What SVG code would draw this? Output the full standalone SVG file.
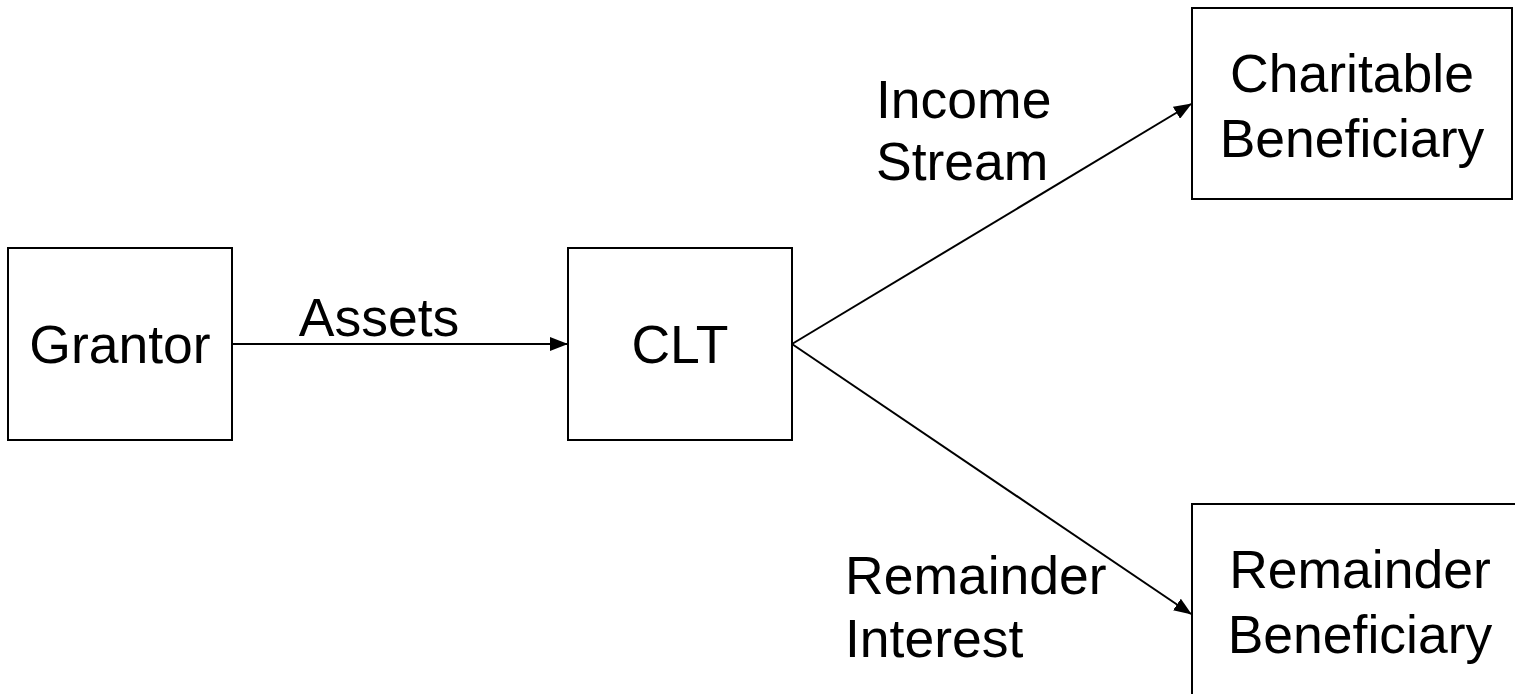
<svg xmlns="http://www.w3.org/2000/svg" width="1515" height="694" viewBox="0 0 1515 694">
<style>
.box{fill:#fff;stroke:#000;stroke-width:2}
.t{font-family:"Liberation Sans",Arial,sans-serif;font-size:53.5px;fill:#000}
.c{text-anchor:middle}
.ln{stroke:#000;stroke-width:2;fill:none;marker-end:url(#ah)}
</style>
<defs>
<marker id="ah" markerWidth="18" markerHeight="14" refX="17" refY="7" orient="auto" markerUnits="userSpaceOnUse">
<path d="M0,0 L18,7 L0,14 Z" fill="#000"/>
</marker>
</defs>
<rect width="1515" height="694" fill="#fff"/>
<g id="connectors">
<line class="ln" x1="232" y1="344" x2="567" y2="344"/>
<line class="ln" x1="792" y1="344" x2="1191" y2="104"/>
<line class="ln" x1="792" y1="344" x2="1191" y2="614"/>
<text class="t c" x="379" y="336">Assets</text>
<text class="t" x="876" y="118">Income</text>
<text class="t" x="876" y="180">Stream</text>
<text class="t" x="845" y="594">Remainder</text>
<text class="t" x="845" y="657">Interest</text>
</g>
<g id="grantor">
<rect class="box" x="8" y="248" width="224" height="192"/>
<text class="t c" x="120" y="363">Grantor</text>
</g>
<g id="clt">
<rect class="box" x="568" y="248" width="224" height="192"/>
<text class="t c" x="680" y="363">CLT</text>
</g>
<g id="charitable">
<rect class="box" x="1192" y="8" width="320" height="191"/>
<text class="t c" x="1352" y="92">Charitable</text>
<text class="t c" x="1352" y="157">Beneficiary</text>
</g>
<g id="remainder">
<rect class="box" x="1192" y="504" width="340" height="210"/>
<text class="t c" x="1360" y="588">Remainder</text>
<text class="t c" x="1360" y="653">Beneficiary</text>
</g>
</svg>
